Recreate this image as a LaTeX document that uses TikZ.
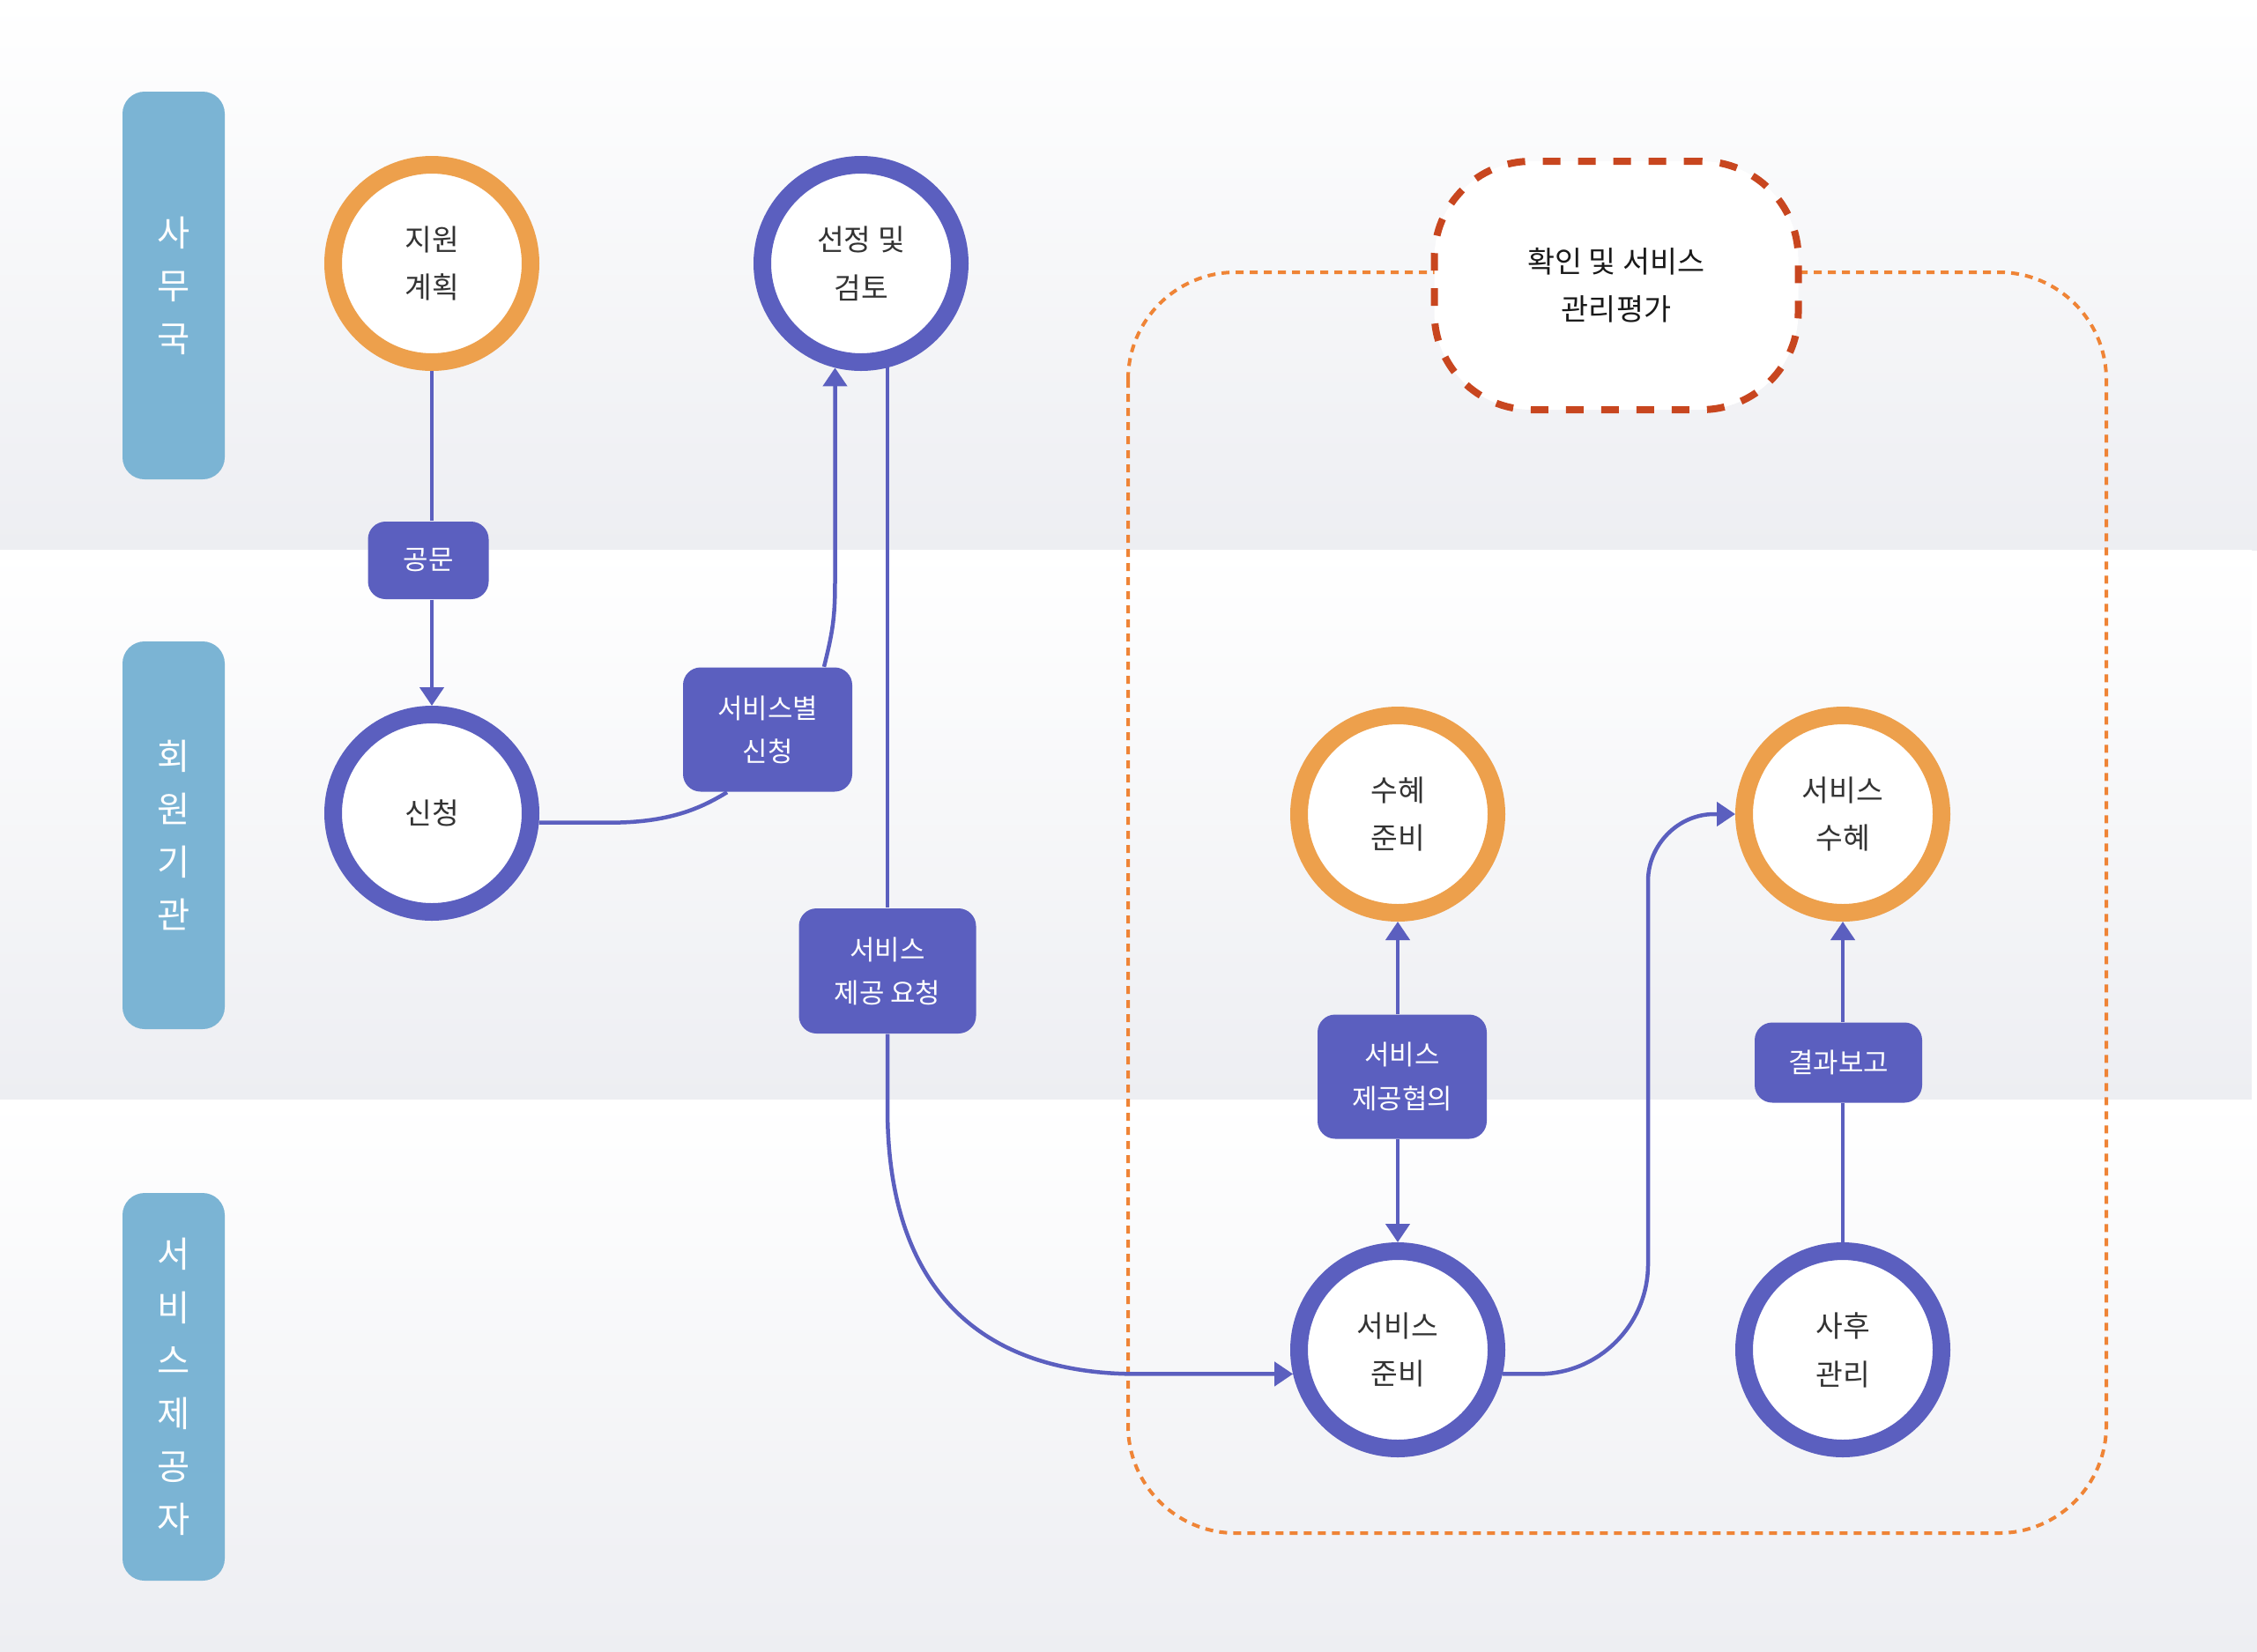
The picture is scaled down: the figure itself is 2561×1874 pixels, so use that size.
\documentclass[tikz,border=0pt]{standalone}
\usepackage{fontspec}
\setmainfont{Noto Sans CJK KR}
\usetikzlibrary{arrows.meta,calc}
\definecolor{purp}{HTML}{5B5FBF}
\definecolor{orng}{HTML}{EDA04C}
\definecolor{lanebl}{HTML}{7BB4D4}
\definecolor{lanegr}{HTML}{EDEEF2}
\definecolor{dotor}{HTML}{EF8436}
\definecolor{blobrd}{HTML}{C8461F}
\definecolor{txt}{HTML}{333333}
\begin{document}
\begin{tikzpicture}[x = .1mm, y = -.1mm,
	lane/.style = {top color = white, bottom color = lanegr, draw = none},
	lanetag/.style = {fill = lanebl, rounded corners = 2.5mm, minimum width = 11.6mm, minimum height = 44mm, text = white, align = center, font = \fontsize{11.5pt}{17.1pt}\selectfont},
	ring/.style = {circle, draw = #1, line width = 2mm, fill = white, minimum size = 22.4mm, inner sep = 0pt, text = txt, align = center, font = \fontsize{9.5pt}{15.6pt}\selectfont},
	msgbox/.style = {fill = purp, rounded corners = 2mm, text = white, align = center, inner sep = 0pt, font = \fontsize{8.8pt}{14pt}\selectfont},
	flow/.style = {draw = purp, line width = .45mm},
	flowarrow/.style = {flow, -{Triangle[length = 2.1mm, width = 2.7mm]}}]
	\useasboundingbox (0,0) rectangle (2561,1874);
	\shade[lane] (0,0) rectangle (2561,624); %lanes
	\shade[lane] (0,624) rectangle (2555,1248);
	\shade[lane] (0,1248) rectangle (2561,1874);
	\node[lanetag] (office) at (197,324) {사\\무\\국};
	\node[lanetag] (member) at (197,948) {회\\원\\기\\관};
	\node[lanetag] (provider) at (197,1574) {서\\비\\스\\제\\공\\자};
	\draw[dotor, line width = .4mm, dash pattern = on .9mm off .7mm, rounded corners = 12.2mm] (1280,309) rectangle (2390,1740); %evaluation area
	\node[ring = orng] (plan) at (490,299) {지원\\계획};
	\node[ring = purp] (review) at (977,299) {선정 및\\검토};
	\node[ring = purp] (apply) at (490,923) {신청};
	\node[ring = orng] (ready) at (1586,924) {수혜\\준비};
	\node[ring = orng] (receive) at (2091,924) {서비스\\수혜};
	\node[ring = purp] (prepare) at (1586,1532) {서비스\\준비};
	\node[ring = purp] (aftercare) at (2091,1532) {사후\\관리};
	\node[msgbox, minimum width = 13.7mm, minimum height = 8.8mm] (memo) at (486,636) {공문};
	\node[msgbox, minimum width = 19.2mm, minimum height = 14.1mm] (request) at (871,828) {서비스별\\신청};
	\node[msgbox, minimum width = 20.1mm, minimum height = 14.2mm] (ask) at (1007,1102) {서비스\\제공 요청};
	\node[msgbox, minimum width = 19.2mm, minimum height = 14.1mm] (talk) at (1591,1222) {서비스\\제공협의};
	\node[msgbox, minimum width = 19mm, minimum height = 9.1mm] (report) at (2086,1206) {결과보고};
	\node[draw = blobrd, line width = .8mm, dash pattern = on 2mm off 2mm, rounded corners = 11mm, fill = white, minimum width = 41.3mm, minimum height = 28.2mm, align = center, text = black!90, font = \fontsize{9.6pt}{15.4pt}\selectfont] (check) at (1834,324) {확인 및 서비스\\관리평가};
	\draw[flow] (plan.south) -- (plan.south |- memo.north);
	\draw[flowarrow] (plan.south |- memo.south) -- (apply.north);
	\draw[flow] (apply.-5) -- ++(82,0) .. controls +(71,0) and +(-25,15) .. ($(request.south)+(-46,0)$);
	\draw[flowarrow] ($(request.north)+(64,0)$) .. controls +(10,-40) and +(0,40) .. ($(review.-104)+(0,243)$) -- (review.-104);
	\draw[flow] (ask.north |- review.-76) -- (ask.north);
	\draw[flowarrow] (ask.south) -- ++(0,84) .. controls +(0,223) and +(-160,0) .. ($(prepare.193)+(-177,0)$) -- (prepare.193);
	\draw[flowarrow] (prepare.-13) -- ++(41,0) .. controls +(68,0) and +(0,69) .. (1870,1435) -- (1870,1000) .. controls +(0,-41) and +(-41,0) .. (1945,924) -- (receive.west);
	\draw[flowarrow] (ready.south |- talk.north) -- (ready.south);
	\draw[flowarrow] (ready.south |- talk.south) -- (prepare.north);
	\draw[flow] (aftercare.north) -- (aftercare.north |- report.south);
	\draw[flowarrow] (aftercare.north |- report.north) -- (receive.south);
\end{tikzpicture}
\end{document}
